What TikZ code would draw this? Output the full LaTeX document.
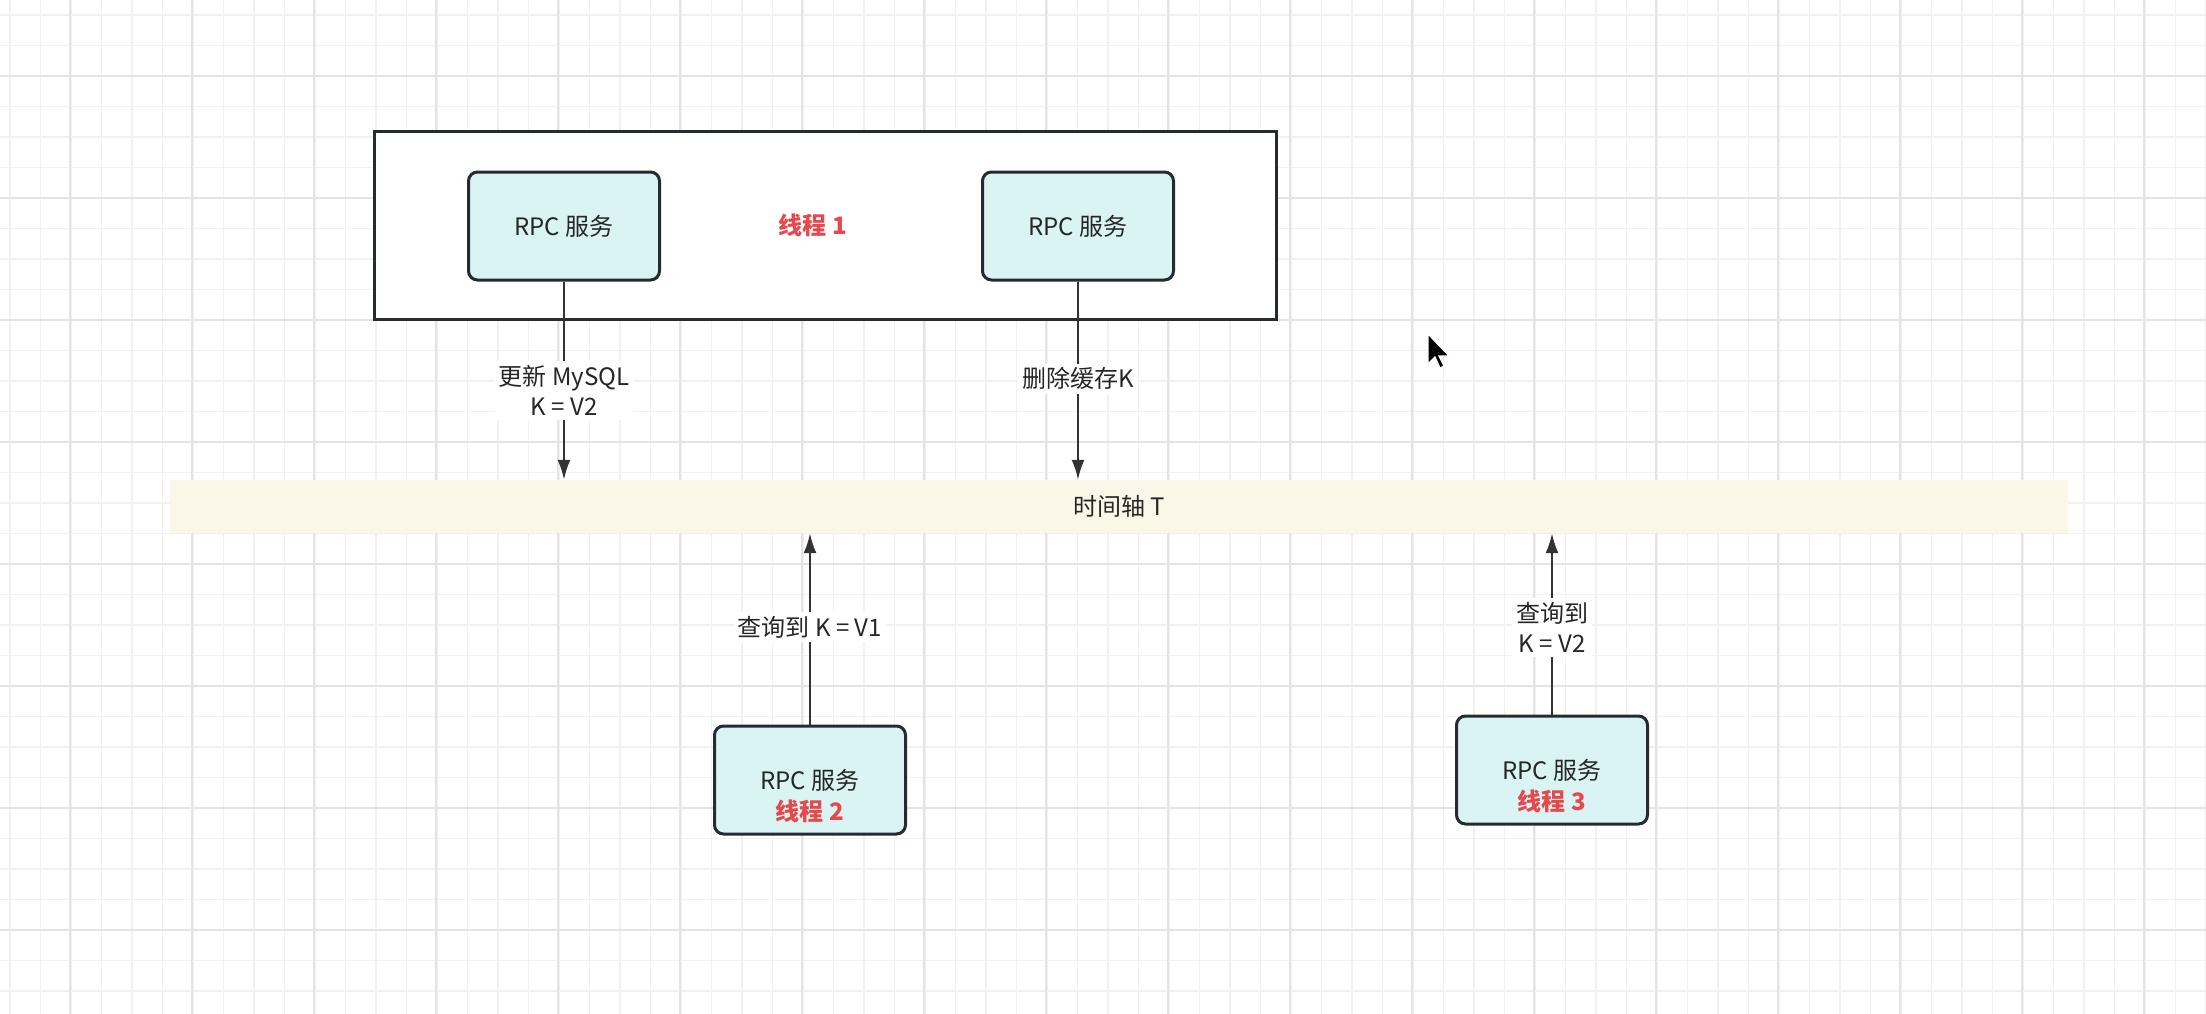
\documentclass[tikz,border=0pt]{standalone}
\usepackage{fontspec}
\setmainfont{Noto Sans CJK SC}
\usetikzlibrary{arrows.meta}
\definecolor{gminor}{HTML}{F1F1F1}
\definecolor{gmajor}{HTML}{E4E4E4}
\definecolor{boxfill}{HTML}{DAF3F3}
\definecolor{boxline}{HTML}{262B31}
\definecolor{bandfill}{HTML}{FBF7E8}
\definecolor{redtxt}{HTML}{E5484D}
\definecolor{arrowc}{HTML}{333333}
\definecolor{txt}{HTML}{262626}
\tikzset{
  gridminor/.style={draw=gminor, line width=1.2pt},
  gridmajor/.style={draw=gmajor, line width=1.8pt},
  rpcbox/.style={draw=boxline, fill=boxfill, line width=3pt, rounded corners=9pt,
    minimum width=191pt, minimum height=108pt, inner sep=0pt, align=center,
    font=\fontsize{24}{30}\selectfont, text=txt},
  rpctext/.style={inner sep=0pt, align=center, text=txt,
    font=\fontsize{24}{31}\selectfont},
  outerbox/.style={draw=boxline, fill=white, line width=3pt, inner sep=0pt,
    minimum width=902pt, minimum height=187pt},
  band/.style={fill=bandfill, draw=none, minimum width=1898pt, minimum height=53pt,
    inner sep=0pt, font=\fontsize{24}{30}\selectfont, text=txt},
  conn/.style={draw=arrowc, line width=2.2pt, -{Latex[length=20pt,width=13pt]}},
  lbl/.style={fill=white, inner sep=4pt, align=center, text=txt,
    font=\fontsize{24}{30}\selectfont},
  redlbl/.style={text=redtxt, font=\fontsize{24}{30}\selectfont\bfseries}
}
\begin{document}
\begin{tikzpicture}[x=1pt,y=-1pt]
\useasboundingbox (0,0) rectangle (2206,1014);
\fill[white] (0,0) rectangle (2206,1014);
% grid
\foreach \i in {0,...,72} { \draw[gridminor] ({10+30.5*\i},0) -- ({10+30.5*\i},1014); }
\foreach \j in {0,...,32} { \draw[gridminor] (0,{15+30.5*\j}) -- (2206,{15+30.5*\j}); }
\foreach \i in {0,...,17} { \draw[gridmajor] ({70+122*\i},0) -- ({70+122*\i},1014); }
\foreach \j in {0,...,7} { \draw[gridmajor] (0,{76+122*\j}) -- (2206,{76+122*\j}); }

% thread 1 container
\node[outerbox] (outer) at (825,225.5) {};
\node[rpcbox] (a1) at (564,226) {RPC 服务};
\node[rpcbox] (a2) at (1078,226) {RPC 服务};
\node[redlbl] (t1) at (813,225) {线程 1};

% timeline
\node[band] (band) at (1119,506.5) {时间轴 T};

% thread 2 and 3
\node[rpcbox] (b2) at (810,780) {};
\node[rpctext] (b2t) at (810,796) {RPC 服务\\{\color{redtxt}\bfseries 线程 2}};
\node[rpcbox] (b3) at (1552,770) {};
\node[rpctext] (b3t) at (1552,786) {RPC 服务\\{\color{redtxt}\bfseries 线程 3}};

% connectors
\draw[conn] (a1.south) -- (a1.south |- band.north)
  node[lbl, pos=0.55] (l1) {更新 MySQL\\K = V2};
\draw[conn] (a2.south) -- (a2.south |- band.north)
  node[lbl, pos=0.49] (l2) {删除缓存K};
\draw[conn] (b2.north) -- (b2.north |- band.south)
  node[lbl, pos=0.51] (l3) {查询到 K = V1};
\draw[conn] (b3.north) -- (b3.north |- band.south)
  node[lbl, pos=0.48] (l4) {查询到\\K = V2};

% mouse cursor
\coordinate (cur) at (1428,334);
\filldraw[fill=black, draw=white, line width=1.2pt, shift={(cur)}]
  (0,0) -- (0,30) -- (7,23) -- (12,34) -- (16,32) -- (11,22) -- (21,22) -- cycle;
\end{tikzpicture}
\end{document}
